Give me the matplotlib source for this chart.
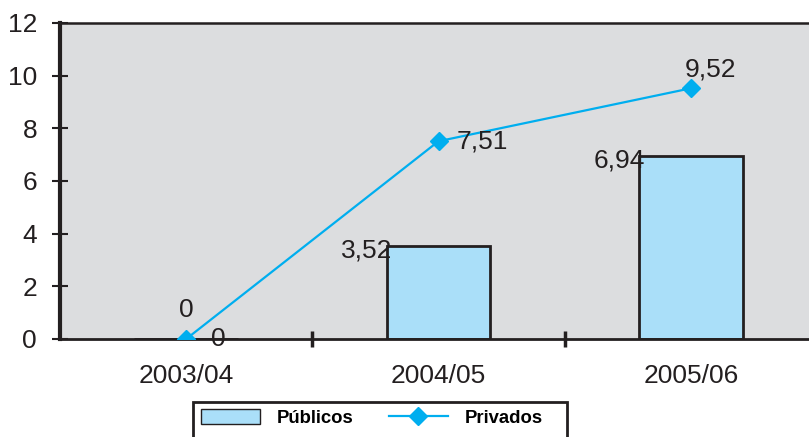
import matplotlib.pyplot as plt
import numpy as np
from matplotlib.patches import Patch, Rectangle
from matplotlib.lines import Line2D

plt.rcParams['font.family'] = ['Liberation Sans', 'DejaVu Sans']

years = ['2003/04', '2004/05', '2005/06']
publicos = [0, 3.52, 6.94]
privados = [0, 7.51, 9.52]
pub_labels = ['0', '3,52', '6,94']
priv_labels = ['0', '7,51', '9,52']

bar_color = '#aadff9'
line_color = '#00aeef'
bg_color = '#dcdddf'
ink = '#231f20'
fs = 19

fig = plt.figure(figsize=(8.09, 4.37), dpi=100)
ax = fig.add_axes([60 / 809, 1 - 339 / 437, 757 / 809, 316 / 437])
ax.set_facecolor(bg_color)

x = np.arange(len(years))
ax.bar(x, publicos, width=0.41, color=bar_color, edgecolor=ink, linewidth=2, zorder=2)
ax.plot(x, privados, color=line_color, lw=1.6, marker='D', markersize=9, zorder=3)

# data labels
ax.annotate(pub_labels[0], (x[0], publicos[0]), xytext=(18, 0), textcoords='offset points',
            ha='left', va='center', fontsize=fs, color=ink, zorder=4)
for i in (1, 2):
    ax.annotate(pub_labels[i], (x[i] - 0.205, publicos[i]), xytext=(4, -3), textcoords='offset points',
                ha='right', va='center', fontsize=fs, color=ink, zorder=4)
ax.annotate(priv_labels[0], (x[0], privados[0]), xytext=(0, 12), textcoords='offset points',
            ha='center', va='bottom', fontsize=fs, color=ink, zorder=4)
ax.annotate(priv_labels[1], (x[1], privados[1]), xytext=(13, 0), textcoords='offset points',
            ha='left', va='center', fontsize=fs, color=ink, zorder=4)
ax.annotate(priv_labels[2], (x[2], privados[2]), xytext=(14, 5), textcoords='offset points',
            ha='center', va='bottom', fontsize=fs, color=ink, zorder=4)

ax.set_xlim(-0.5, 2.5)
ax.set_ylim(0, 12)
ax.set_yticks(range(0, 13, 2))
ax.set_xticks(x)
ax.set_xticklabels(years)
ax.set_xticks([0.5, 1.5], minor=True)
ax.tick_params(axis='x', which='major', length=0, labelsize=fs, pad=18, colors=ink)
ax.tick_params(axis='x', which='minor', direction='inout', length=12, width=2.5, color=ink)
ax.tick_params(axis='y', direction='inout', length=11, width=1.5, labelsize=fs, pad=11, colors=ink)

ax.spines['left'].set_linewidth(3)
ax.spines['bottom'].set_linewidth(2)
ax.spines['top'].set_linewidth(1.8)
ax.spines['right'].set_visible(False)
for s in ax.spines.values():
    s.set_color(ink)

# legend box runs off the bottom edge, so draw the frame by hand
fig.patches.append(Rectangle((193 / 809, -0.05), (567 - 193) / 809, 0.05 + 1 - 402 / 437,
                             transform=fig.transFigure, fill=False, edgecolor=ink, linewidth=2))

handles = [Patch(facecolor=bar_color, edgecolor=ink, linewidth=1),
           Line2D([0], [0], color=line_color, lw=1.6, marker='D', markersize=9)]
leg = fig.legend(handles, ['Públicos', 'Privados'], loc='upper left',
                 bbox_to_anchor=(193 / 809, 1 - 401 / 437), ncol=2, frameon=False,
                 prop={'weight': 'bold', 'size': 13.3},
                 handlelength=3.2, handleheight=0.85, columnspacing=1.9, handletextpad=0.9,
                 borderpad=0.45, borderaxespad=0)

fig.savefig('out.png', dpi=100)
